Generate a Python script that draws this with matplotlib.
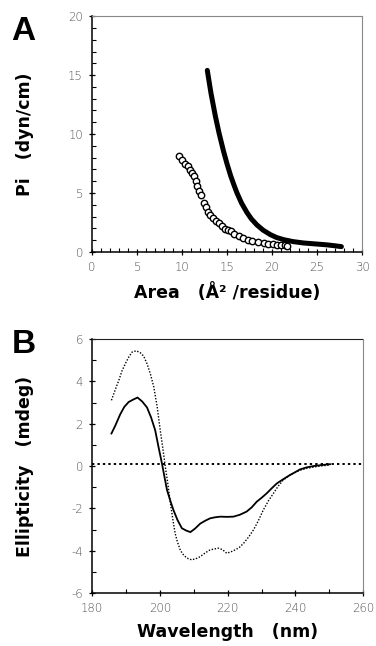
import matplotlib
matplotlib.use("Agg")
import matplotlib.pyplot as plt
from matplotlib.ticker import MultipleLocator

# ── Data ──────────────────────────────────────────────────────────────────────

# Panel A: surface pressure isotherms
area_solid = [12.8, 13.2, 13.7, 14.1, 14.6, 15.0, 15.4, 15.8, 16.1, 16.6,
              17.2, 17.7, 18.3, 19.0, 19.8, 20.5, 21.3, 22.3, 23.5, 24.8,
              26.1, 27.0, 27.7]
pi_solid = [15.4, 13.5, 11.5, 10.1, 8.55, 7.45, 6.45, 5.6, 5.0, 4.15,
            3.35, 2.8, 2.3, 1.85, 1.47, 1.22, 1.04, 0.88, 0.76, 0.68,
            0.6, 0.52, 0.45]

area_open = [9.7, 10.0, 10.3, 10.7, 10.9, 11.1, 11.3, 11.5, 11.7, 11.9,
             12.1, 12.4, 12.6, 12.9, 13.1, 13.4, 13.8, 14.1, 14.4, 14.8,
             15.1, 15.4, 15.8, 16.3, 16.8, 17.3, 17.8, 18.4, 19.1, 19.6,
             20.1, 20.6, 21.0, 21.4, 21.7]
pi_open = [8.16, 7.8, 7.5, 7.25, 6.95, 6.7, 6.4, 6.0, 5.6, 5.2,
           4.8, 4.15, 3.8, 3.4, 3.16, 2.85, 2.6, 2.45, 2.2, 1.95,
           1.85, 1.75, 1.5, 1.32, 1.18, 1.05, 0.95, 0.85, 0.76, 0.7,
           0.65, 0.6, 0.57, 0.55, 0.53]

# Panel B: CD spectra
wl_solid = [185.7, 186.8, 188.3, 189.5, 190.8, 192.2, 193.4, 194.8, 196.2,
            197.4, 198.6, 199.6, 200.6, 201.4, 202.1, 203.0, 204.0, 205.2,
            206.5, 207.8, 209.0, 210.4, 211.9, 213.4, 214.8, 216.3, 217.8,
            219.8, 221.7, 223.6, 225.6, 227.1, 228.6, 230.0, 231.5, 233.0,
            234.5, 236.4, 238.4, 240.0, 241.3, 243.3, 245.3, 247.8, 250.2]
ell_solid = [1.54, 1.9, 2.45, 2.8, 3.03, 3.15, 3.24, 3.05, 2.77,
             2.3, 1.7, 0.9, 0.13, -0.55, -1.13, -1.6, -2.08, -2.55,
             -2.94, -3.05, -3.12, -2.95, -2.72, -2.58, -2.47, -2.42, -2.39,
             -2.4, -2.39, -2.3, -2.15, -1.95, -1.68, -1.5, -1.29, -1.05,
             -0.82, -0.62, -0.42, -0.28, -0.16, -0.06, 0.0, 0.05, 0.09]

wl_dot = [185.7, 186.8, 187.9, 188.8, 189.8, 190.8, 191.8, 193.0, 194.2,
          195.2, 196.2, 197.2, 198.2, 199.2, 200.1, 200.9, 201.6, 202.4,
          203.1, 203.8, 204.5, 205.2, 206.0, 206.7, 207.5, 208.4, 209.4,
          210.6, 211.9, 213.4, 214.8, 216.0, 217.3, 218.5, 219.7, 221.0,
          222.2, 223.4, 224.7, 226.2, 227.6, 229.0, 230.5, 232.0, 233.5,
          234.9, 236.4, 237.9, 239.3, 241.3, 243.3, 245.3, 247.2, 250.2]
ell_dot = [3.11, 3.6, 4.06, 4.5, 4.84, 5.15, 5.39, 5.45, 5.36,
           5.2, 4.84, 4.35, 3.74, 2.8, 1.7, 0.8, -0.03, -0.9,
           -1.76, -2.5, -3.18, -3.6, -3.96, -4.15, -4.28, -4.38, -4.43,
           -4.38, -4.28, -4.1, -3.96, -3.92, -3.88, -3.95, -4.12, -4.05,
           -3.96, -3.85, -3.65, -3.35, -3.02, -2.6, -2.08, -1.65, -1.29,
           -0.95, -0.66, -0.48, -0.35, -0.2, -0.11, -0.05, 0.0, 0.05]

zero_x = [180, 260]
zero_y = [0.08, 0.08]

# ── Style ─────────────────────────────────────────────────────────────────────

plt.rcParams["axes.unicode_minus"] = False

LABEL_FONT = dict(family="DejaVu Sans", fontweight="bold", fontsize=12.5)
TICK_COLOUR = "#555555"


def style_axes(ax, top_colour="#888888"):
    for side in ("top", "right"):
        ax.spines[side].set_color("#888888")
        ax.spines[side].set_linewidth(0.8)
        ax.spines[side].set_linestyle((0, (3, 1)))
    ax.spines["top"].set_color(top_colour)
    for side in ("left", "bottom"):
        ax.spines[side].set_linewidth(1.1)
    ax.tick_params(which="major", direction="inout", length=5, width=0.9,
                   labelsize=8.5, labelcolor=TICK_COLOUR, pad=4)
    ax.tick_params(which="minor", direction="in", length=3, width=0.8)
    for lab in ax.get_xticklabels() + ax.get_yticklabels():
        lab.set_family("DejaVu Sans")
        lab.set_fontweight("light")


fig = plt.figure(figsize=(3.76, 6.46), dpi=100)

# ── Panel A ───────────────────────────────────────────────────────────────────

ax_a = fig.add_axes([0.245, 0.610, 0.718, 0.365])
ax_a.plot(area_solid, pi_solid, "-", color="black", linewidth=3.6,
          solid_capstyle="round", solid_joinstyle="round")
ax_a.plot(area_open, pi_open, "o", markerfacecolor="white",
          markeredgecolor="black", markersize=4.6, markeredgewidth=1.0)
ax_a.set_xlim(0, 30)
ax_a.set_ylim(0, 20)
ax_a.xaxis.set_major_locator(MultipleLocator(5))
ax_a.xaxis.set_minor_locator(MultipleLocator(1))
ax_a.yaxis.set_major_locator(MultipleLocator(5))
ax_a.yaxis.set_minor_locator(MultipleLocator(1))
style_axes(ax_a)
ax_a.set_xlabel("Area   (Å² /residue)", **LABEL_FONT)
ax_a.set_ylabel("Pi   (dyn/cm)", **LABEL_FONT)
ax_a.xaxis.set_label_coords(0.5, -0.13)
ax_a.yaxis.set_label_coords(-0.215, 0.5)
fig.text(0.03, 0.975, "A", fontsize=24, fontweight="bold",
         family="Liberation Sans", va="top", ha="left")

# ── Panel B ───────────────────────────────────────────────────────────────────

ax_b = fig.add_axes([0.245, 0.082, 0.721, 0.393])
ax_b.plot(zero_x, zero_y, color="black", linestyle=(0, (1.2, 1.6)),
          linewidth=1.4)
ax_b.plot(wl_dot, ell_dot, color="black", linestyle=(0, (1, 1.2)),
          linewidth=1.0)
ax_b.plot(wl_solid, ell_solid, color="black", linewidth=1.3)
ax_b.set_xlim(180, 260)
ax_b.set_ylim(-6, 6)
ax_b.xaxis.set_major_locator(MultipleLocator(20))
ax_b.xaxis.set_minor_locator(MultipleLocator(10))
ax_b.yaxis.set_major_locator(MultipleLocator(2))
ax_b.yaxis.set_minor_locator(MultipleLocator(1))
style_axes(ax_b, top_colour="#222222")
ax_b.set_xlabel("Wavelength   (nm)", **LABEL_FONT)
ax_b.set_ylabel("Ellipticity   (mdeg)", **LABEL_FONT)
ax_b.xaxis.set_label_coords(0.5, -0.12)
ax_b.yaxis.set_label_coords(-0.215, 0.5)
fig.text(0.03, 0.49, "B", fontsize=24, fontweight="bold",
         family="Liberation Sans", va="top", ha="left")

fig.savefig("out.png", dpi=100)
